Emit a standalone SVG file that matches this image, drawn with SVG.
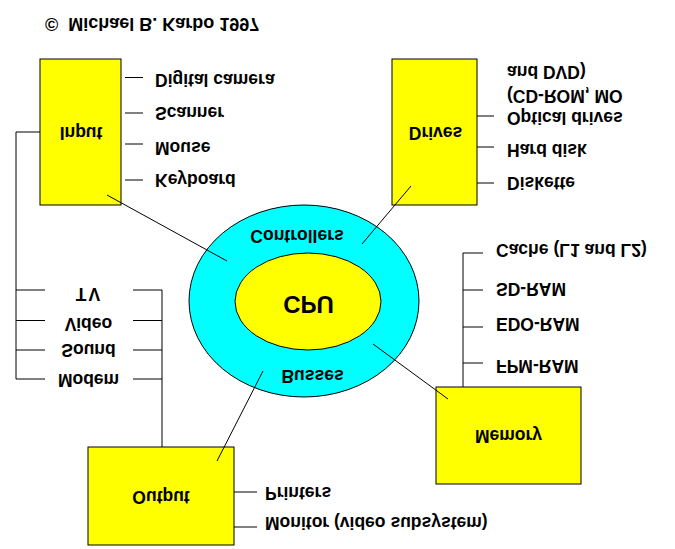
<svg xmlns="http://www.w3.org/2000/svg" width="675" height="549" viewBox="0 0 675 549">
<style>
text{font-family:"Liberation Sans",Arial,sans-serif;font-size:17.5px;font-weight:bold;fill:#000}
.m{text-anchor:middle}
.cpu{font-size:24px}
.cr{font-size:18px}
.box{fill:#ffff00;stroke:#000;stroke-width:1}
.ln{stroke:#000;stroke-width:1;fill:none}
</style>
<rect width="675" height="549" fill="#fff"/>
<text class="cr" transform="matrix(1 0 0 -1 45 18)">©&#160; Michael B. Karbo 1997</text>
<g id="cpu">
<ellipse cx="304" cy="301" rx="115" ry="96" fill="#00ffff" stroke="#000"/>
<ellipse cx="308" cy="301.5" rx="73" ry="48.5" fill="#ffff00" stroke="#000"/>
<text class="m cpu" transform="matrix(1 0 0 -1 308.5 296)">CPU</text>
<text class="m" transform="matrix(1 0 0 -1 297 230)">Controllers</text>
<text class="m" transform="matrix(1 0 0 -1 312.5 370)">Busses</text>
</g>
<g id="input">
<rect class="box" x="40" y="59" width="81" height="146"/>
<text class="m" transform="matrix(1 0 0 -1 81 127)">Input</text>
<text transform="matrix(1 0 0 -1 155 74)">Digital camera</text>
<text transform="matrix(1 0 0 -1 155 107)">Scanner</text>
<text transform="matrix(1 0 0 -1 155 142)">Mouse</text>
<text transform="matrix(1 0 0 -1 155 174)">Keyboard</text>
</g>
<g id="drives">
<rect class="box" x="392" y="59" width="85" height="146"/>
<text class="m" transform="matrix(1 0 0 -1 435.5 127)">Drives</text>
<text transform="matrix(1 0 0 -1 507 66)">and DVD)</text>
<text transform="matrix(1 0 0 -1 507 90)">(CD-ROM, MO</text>
<text transform="matrix(1 0 0 -1 507 112)">Optical drives</text>
<text transform="matrix(1 0 0 -1 507 144)">Hard disk</text>
<text transform="matrix(1 0 0 -1 507 177)">Diskette</text>
</g>
<g id="media">
<text class="m" transform="matrix(1 0 0 -1 89 288)" letter-spacing="2">TV</text>
<text class="m" transform="matrix(1 0 0 -1 88.5 318)">Video</text>
<text class="m" transform="matrix(1 0 0 -1 88.5 344)">Sound</text>
<text class="m" transform="matrix(1 0 0 -1 88.5 374)">Modem</text>
</g>
<g id="memory">
<rect class="box" x="436" y="387" width="145" height="97"/>
<text class="m" transform="matrix(1 0 0 -1 508.5 430)">Memory</text>
<text transform="matrix(1 0 0 -1 496 244)">Cache (L1 and L2)</text>
<text transform="matrix(1 0 0 -1 496 283)">SD-RAM</text>
<text transform="matrix(1 0 0 -1 496 318)">EDO-RAM</text>
<text transform="matrix(1 0 0 -1 496 360)">FPM-RAM</text>
</g>
<g id="output">
<rect class="box" x="88" y="447" width="146" height="98"/>
<text class="m" transform="matrix(1 0 0 -1 161 491)">Output</text>
<text transform="matrix(1 0 0 -1 265 487)">Printers</text>
<text transform="matrix(1 0 0 -1 265 517)">Monitor (video subsystem)</text>
</g>
<g id="connectors" class="ln">
<path d="M107 195L227 261M411 186L362 244M373 344L448 399M263 371L217 461"/>
<path d="M125 77.5H143M125 113H143M125 144H143M125 180H143"/>
<path d="M40 132H16V379H45M16 290H45M16 320.5H45M16 350H45"/>
<path d="M133 290H162V447M133 320.5H162M133 350H162M133 379H162"/>
<path d="M477 116H494M477 147H494M477 183H494"/>
<path d="M463 387V253H483M463 290H483M463 327H483M463 363H483"/>
<path d="M234 492H257M234 527H257"/>
</g>
</svg>
